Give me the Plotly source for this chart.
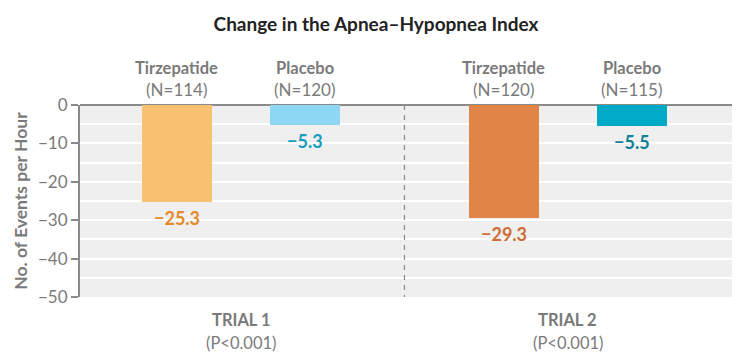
import plotly.graph_objects as go

title = "Change in the Apnea\u2013Hypopnea Index"
trials = ["TRIAL 1", "TRIAL 2"]
p_values = ["(P<0.001)", "(P<0.001)"]
groups = ["Tirzepatide", "Placebo"]
n_counts = [[114, 120], [120, 115]]
changes = [[-25.3, -5.3], [-29.3, -5.5]]
bar_colors = [["#f8c172", "#8dd7f4"], ["#e08546", "#00a9c6"]]
label_colors = [["#e58a2a", "#1a9dbd"], ["#cf6d37", "#127f98"]]
y_ticks = [0, -10, -20, -30, -40, -50]

TRIAL_GAP = 2.55
FONT = "Lato"
GRAY = "#7a7a7a"
OFF = 8  # page body margin offset

fig = go.Figure()
ann = []
for t, trial in enumerate(trials):
    xs = [t * TRIAL_GAP + g for g in range(len(groups))]
    fig.add_trace(go.Bar(
        x=xs, y=changes[t], width=0.55,
        marker=dict(color=bar_colors[t], line=dict(width=0)),
        showlegend=False, hoverinfo="skip",
    ))
    for g, grp in enumerate(groups):
        v = changes[t][g]
        ann.append(dict(x=xs[g], y=v, xref="x", yref="y", yanchor="top", yshift=-3,
                        text="\u2212%.1f" % abs(v), showarrow=False,
                        font=dict(family=FONT, size=18, color=label_colors[t][g], weight="bold")))
        ann.append(dict(x=xs[g], y=1, xref="x", yref="paper", yanchor="middle", yshift=37,
                        text=grp, showarrow=False,
                        font=dict(family=FONT, size=16.5, color=GRAY, weight="bold")))
        ann.append(dict(x=xs[g], y=1, xref="x", yref="paper", yanchor="middle", yshift=16,
                        text="(N=%d)" % n_counts[t][g], showarrow=False,
                        font=dict(family=FONT, size=17, color=GRAY)))
    cx = sum(xs) / len(xs)
    ann.append(dict(x=cx, y=0, xref="x", yref="paper", yanchor="middle", yshift=-23,
                    text=trial, showarrow=False,
                    font=dict(family=FONT, size=16.5, color=GRAY, weight="bold")))
    ann.append(dict(x=cx, y=0, xref="x", yref="paper", yanchor="middle", yshift=-46,
                    text=p_values[t], showarrow=False,
                    font=dict(family=FONT, size=16.5, color=GRAY)))

sep_x = (1 + TRIAL_GAP) / 2
fig.add_shape(type="line", x0=sep_x, x1=sep_x, y0=0, y1=-50.5, xref="x", yref="y",
              line=dict(color="#8a8a8a", width=1.2, dash="5px,5px"))

W, H = 747 - OFF, 362 - OFF
fig.update_layout(
    width=W, height=H,
    margin=dict(l=77 - OFF, r=15, t=105 - OFF, b=65),
    paper_bgcolor="white", plot_bgcolor="#efefef",
    title=dict(text="<b>" + title + "</b>", x=(376 - OFF) / W, xanchor="center",
               y=1 - (24 - OFF) / H, yanchor="middle",
               font=dict(family=FONT, size=19, color="#222222")),
    annotations=ann,
    bargap=0,
    xaxis=dict(range=[-0.756, 1 + TRIAL_GAP + 0.78], showgrid=False, zeroline=False,
               showticklabels=False, ticks="", showline=False, fixedrange=True),
    yaxis=dict(range=[-50, 0], tickvals=y_ticks,
               ticktext=[("\u2212%d" % abs(v)) if v < 0 else "0" for v in y_ticks],
               showgrid=True, gridcolor="white", gridwidth=1.5,
               minor=dict(dtick=5, showgrid=True, gridcolor="white", gridwidth=1.5),
               zeroline=True, zerolinecolor="#8a8a8a", zerolinewidth=2,
               showline=True, linecolor="#8a8a8a", linewidth=2,
               ticks="outside", ticklen=7, tickcolor="#8a8a8a", tickwidth=1.5,
               tickfont=dict(family=FONT, size=17, color=GRAY),
               title=dict(text="<b>No. of Events per Hour</b>", standoff=6,
                          font=dict(family=FONT, size=17.5, color=GRAY))),
)

fig.write_html("out.html")
